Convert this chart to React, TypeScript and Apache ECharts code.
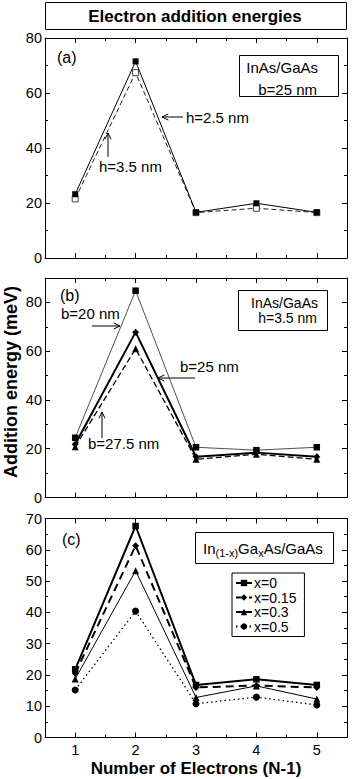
import React, { useEffect, useRef } from 'react';
import * as echarts from 'echarts';

// ---- data ----
const electrons = [1, 2, 3, 4, 5];
// panel (a): InAs/GaAs, b = 25 nm
const aH25 = [23.2, 71.5, 16.6, 19.9, 16.6];
const aH35 = [21.5, 67.4, 16.5, 18.1, 16.5];
// panel (b): InAs/GaAs, h = 3.5 nm
const bB20 = [24.5, 84.8, 20.6, 19.4, 20.6];
const bB25 = [21.8, 67.8, 16.7, 18.4, 16.7];
const bB275 = [20.8, 61.0, 15.7, 17.7, 15.7];
// panel (c): In(1-x)Ga(x)As/GaAs
const cX0 = [21.8, 67.6, 16.8, 18.6, 16.8];
const cX015 = [20.5, 61.3, 16.0, 16.6, 16.0];
const cX03 = [18.7, 53.3, 12.8, 16.5, 12.3];
const cX05 = [15.2, 40.4, 10.8, 12.9, 10.4];

const xTicks = [1, 2, 3, 4, 5];
const xMinorTicks = [1.5, 2.5, 3.5, 4.5];
const aYTicks = [0, 20, 40, 60, 80];
const aYMinor = [10, 30, 50, 70];
const bYTicks = [0, 20, 40, 60, 80];
const bYMinor = [10, 30, 50, 70];
const cYTicks = [0, 10, 20, 30, 40, 50, 60, 70];
const cYMinor = [5, 15, 25, 35, 45, 55, 65];

const FONT = '"Liberation Sans", Arial, Helvetica, sans-serif';

const pairs = (vals: number[]) => electrons.map((e, i) => [e, vals[i]]);

function xAxesFor(grid: number, showLabels: boolean) {
  const base: any = {
    type: 'value', gridIndex: grid, min: 0.5, max: 5.5,
    splitLine: { show: false },
    axisLine: { show: true, onZero: false, lineStyle: { color: '#000', width: 1 } },
  };
  const major = { show: true, inside: true, length: 5, customValues: xTicks, lineStyle: { color: '#000', width: 1 } };
  const minor = { show: true, inside: true, length: 3, customValues: xMinorTicks, lineStyle: { color: '#000', width: 1 } };
  return [
    { ...base, position: 'bottom', axisTick: major,
      axisLabel: { show: showLabels, customValues: xTicks, margin: 5, color: '#000', fontSize: 14.5, fontFamily: FONT } },
    { ...base, position: 'bottom', axisLine: { show: false, onZero: false }, axisTick: minor, axisLabel: { show: false } },
    { ...base, position: 'top', axisTick: major, axisLabel: { show: false } },
    { ...base, position: 'top', axisLine: { show: false, onZero: false }, axisTick: minor, axisLabel: { show: false } },
  ];
}

function yAxesFor(grid: number, max: number, ticks: number[], minors: number[]) {
  const base: any = {
    type: 'value', gridIndex: grid, min: 0, max,
    splitLine: { show: false },
    axisLine: { show: true, onZero: false, lineStyle: { color: '#000', width: 1 } },
  };
  const major = { show: true, inside: true, length: 5, customValues: ticks, lineStyle: { color: '#000', width: 1 } };
  const minor = { show: true, inside: true, length: 3, customValues: minors, lineStyle: { color: '#000', width: 1 } };
  return [
    { ...base, position: 'left', axisTick: major,
      axisLabel: { show: true, customValues: ticks, margin: 3, color: '#000', fontSize: 14.5, fontFamily: FONT } },
    { ...base, position: 'left', axisLine: { show: false, onZero: false }, axisTick: minor, axisLabel: { show: false } },
    { ...base, position: 'right', axisTick: major, axisLabel: { show: false } },
    { ...base, position: 'right', axisLine: { show: false, onZero: false }, axisTick: minor, axisLabel: { show: false } },
  ];
}

function line(name: string, grid: number, vals: number[], opts: any) {
  return {
    type: 'line', name, xAxisIndex: grid * 4, yAxisIndex: grid * 4,
    data: pairs(vals),
    symbol: opts.symbol, symbolSize: opts.size ?? 6,
    lineStyle: { color: opts.color ?? '#000', width: opts.width ?? 1, type: opts.type ?? 'solid' },
    itemStyle: opts.itemStyle ?? { color: '#000' },
    emphasis: { disabled: true },
    z: opts.z ?? 2,
  };
}

function arrow(x1: number, y1: number, x2: number, y2: number) {
  const ang = Math.atan2(y2 - y1, x2 - x1);
  const L = 7, w = 0.45;
  const p1 = [x2 - L * Math.cos(ang - w), y2 - L * Math.sin(ang - w)];
  const p2 = [x2 - L * Math.cos(ang + w), y2 - L * Math.sin(ang + w)];
  return [
    { type: 'line', shape: { x1, y1, x2, y2 }, style: { stroke: '#000', lineWidth: 1 } },
    { type: 'polyline', shape: { points: [p1, [x2, y2], p2] }, style: { stroke: '#000', fill: null, lineWidth: 1 } },
  ];
}

function txt(text: string, x: number, y: number, size = 15, extra: any = {}) {
  return {
    type: 'text', x, y,
    style: { text, fill: '#000', fontSize: size, fontFamily: FONT, textVerticalAlign: 'middle', textAlign: 'left', ...extra },
  };
}

function box(x: number, y: number, w: number, h: number) {
  return { type: 'rect', shape: { x: x + 0.5, y: y + 0.5, width: w, height: h }, style: { fill: '#fff', stroke: '#000', lineWidth: 1 } };
}

export default function App() {
  const ref = useRef<HTMLDivElement>(null);
  useEffect(() => {
    if (!ref.current) return;
    const chart = echarts.init(ref.current, null, { renderer: 'svg' });
    const option: any = {
      animation: false,
      backgroundColor: '#fff',
      textStyle: { fontFamily: FONT },
      grid: [
        { left: 45, top: 38, width: 302, height: 220 },
        { left: 45, top: 278, width: 302, height: 219.5 },
        { left: 45, top: 518.5, width: 302, height: 219 },
      ],
      xAxis: [...xAxesFor(0, false), ...xAxesFor(1, false), ...xAxesFor(2, true)],
      yAxis: [
        ...yAxesFor(0, 80, aYTicks, aYMinor),
        ...yAxesFor(1, 90, bYTicks, bYMinor),
        ...yAxesFor(2, 70, cYTicks, cYMinor),
      ],
      legend: {
        data: ['x=0', 'x=0.15', 'x=0.3', 'x=0.5'],
        orient: 'vertical', left: 232, top: 573,
        padding: [3, 8, 3, 3], itemGap: 0.5, itemWidth: 16, itemHeight: 8,
        borderColor: '#000', borderWidth: 1, backgroundColor: '#fff',
        textStyle: { color: '#000', fontSize: 14, fontFamily: FONT, lineHeight: 12.5, padding: [0, 0, 0, -3] },
        selectedMode: false,
      },
      series: [
        // (a)
        line('h=3.5 nm', 0, aH35, { symbol: 'rect', size: 6, type: [5, 3], color: '#222',
          itemStyle: { color: '#fff', borderColor: '#444', borderWidth: 1 } }),
        line('h=2.5 nm', 0, aH25, { symbol: 'rect', size: 6, z: 3 }),
        // (b)
        line('b=20 nm', 1, bB20, { symbol: 'rect', size: 6.5, width: 0.8, color: '#222' }),
        line('b=27.5 nm', 1, bB275, { symbol: 'triangle', size: 7, width: 1.3, type: [6, 3] }),
        line('b=25 nm', 1, bB25, { symbol: 'diamond', size: 7, width: 2, z: 3 }),
        // (c)
        line('x=0.5', 2, cX05, { symbol: 'circle', size: 7, width: 1.3, type: [1.5, 3] }),
        line('x=0.3', 2, cX03, { symbol: 'triangle', size: 7, width: 1 }),
        line('x=0.15', 2, cX015, { symbol: 'diamond', size: 7, width: 2, type: [8, 5] }),
        line('x=0', 2, cX0, { symbol: 'rect', size: 6.5, width: 2, z: 3 }),
      ],
      graphic: [
        // title box
        box(45, 2, 301, 27),
        { type: 'text', x: 195, y: 16, style: { text: 'Electron addition energies', fill: '#000', fontSize: 17, fontWeight: 'bold', fontFamily: FONT, textAlign: 'center', textVerticalAlign: 'middle' } },
        // y axis name
        { type: 'text', x: 11, y: 382, rotation: Math.PI / 2, style: { text: 'Addition energy (meV)', fill: '#000', fontSize: 18, fontWeight: 'bold', fontFamily: FONT, textAlign: 'center', textVerticalAlign: 'middle' } },
        // x axis name
        { type: 'text', x: 196, y: 768, style: { text: 'Number of Electrons (N-1)', fill: '#000', fontSize: 17, fontWeight: 'bold', fontFamily: FONT, textAlign: 'center', textVerticalAlign: 'middle' } },
        // panel labels
        txt('(a)', 57, 57, 16),
        txt('(b)', 60, 295, 16),
        txt('(c)', 62, 539, 16),
        // (a) box + annotations
        box(239, 55, 99, 41),
        txt('InAs/GaAs', 318, 67, 15, { textAlign: 'right' }),
        txt('b=25 nm', 317, 89, 15, { textAlign: 'right' }),
        ...arrow(183, 117, 162, 117),
        txt('h=2.5 nm', 186, 117),
        ...arrow(108, 157, 108, 133),
        txt('h=3.5 nm', 99, 166),
        // (b) box + annotations
        box(238, 290, 89, 40),
        txt('InAs/GaAs', 318, 303, 14, { textAlign: 'right' }),
        txt('h=3.5 nm', 317, 318, 14, { textAlign: 'right' }),
        txt('b=20 nm', 61, 313),
        ...arrow(92, 326, 120, 326),
        txt('b=25 nm', 180, 366),
        ...arrow(195, 378, 158, 378),
        txt('b=27.5 nm', 88, 443),
        ...arrow(102, 438, 102, 412),
        // (c) composition box
        box(195, 532, 138, 31),
        {
          type: 'text', x: 203, y: 548,
          style: {
            text: '{m|In}{s|(1-x)}{m|Ga}{s|x}{m|As/GaAs}',
            fill: '#000', fontFamily: FONT, textAlign: 'left', textVerticalAlign: 'middle',
            rich: {
              m: { fontSize: 15, fontFamily: FONT, fill: '#000', lineHeight: 20 },
              s: { fontSize: 11, fontFamily: FONT, fill: '#000', lineHeight: 11, verticalAlign: 'bottom' },
            },
          },
        },
      ],
    };
    chart.setOption(option);
    return () => chart.dispose();
  }, []);
  return <div ref={ref} style={{ position: 'fixed', left: 0, top: 0, width: 360, height: 779 }} />;
}
